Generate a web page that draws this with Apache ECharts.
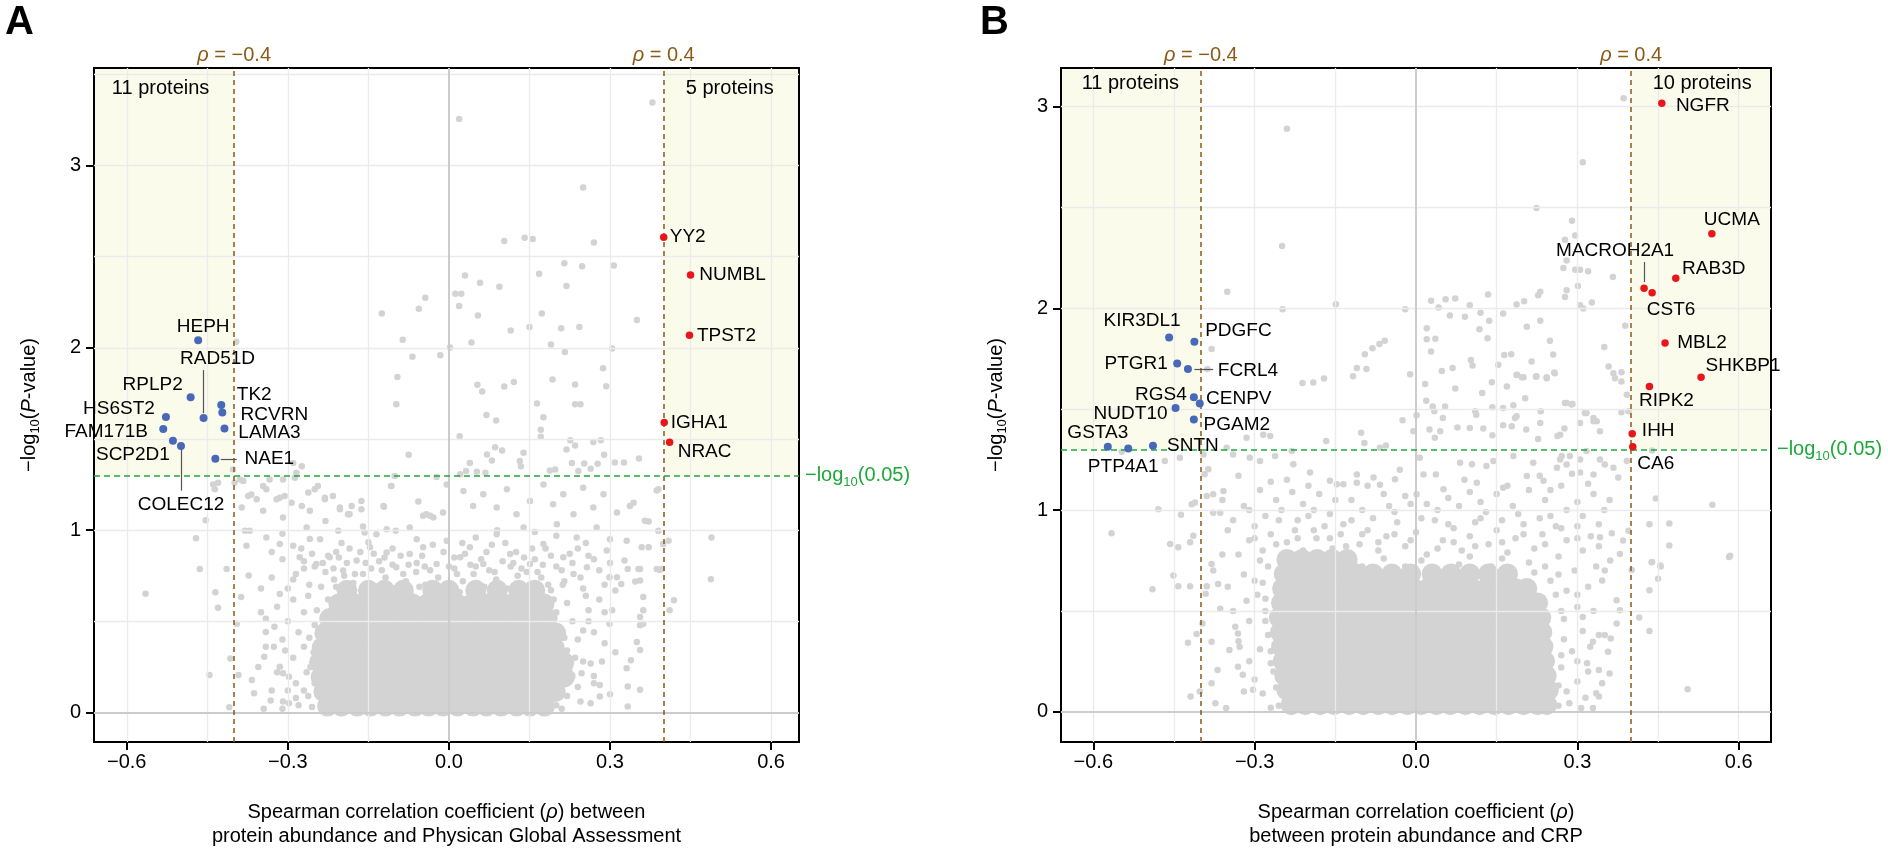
<!DOCTYPE html>
<html><head><meta charset="utf-8">
<script src="https://cdn.jsdelivr.net/npm/echarts@6/dist/echarts.min.js"></script>
<style>html,body{margin:0;padding:0;background:#fff}#c{width:1888px;height:853px}</style>
</head><body><div id="c"></div>
<script>
const FONT = '"Liberation Sans", Arial, Helvetica, sans-serif';

// ---------- axes ----------
const xRangeA = [-0.661, 0.652], yRangeA = [-0.162, 3.535];
const xRangeB = [-0.660, 0.660], yRangeB = [-0.150, 3.192];
const xTicks = [-0.6, -0.3, 0, 0.3, 0.6];
const xMinor = [-0.45, -0.15, 0.15, 0.45];
const yTicks = [0, 1, 2, 3];
const yMinorA = [0.5, 1.5, 2.5, 3.5];
const yMinorB = [0.5, 1.5, 2.5];
const rhoCut = 0.4;
const pCut = 1.30103; // -log10(0.05)

// ---------- panel A: significant proteins [name, rho, -log10 p] ----------
const negA = [['HEPH',-0.467,2.042],['RAD51D',-0.457,1.615],['RPLP2',-0.481,1.729],['TK2',-0.424,1.687],['RCVRN',-0.422,1.646],['LAMA3',-0.418,1.557],['HS6ST2',-0.527,1.620],['FAM171B',-0.532,1.555],['SCP2D1',-0.514,1.491],['COLEC12',-0.499,1.462],['NAE1',-0.435,1.391]];
const posA = [['YY2',0.400,2.606],['NUMBL',0.450,2.400],['TPST2',0.448,2.069],['IGHA1',0.401,1.591],['NRAC',0.411,1.482]];
// ---------- panel B ----------
const negB = [['KIR3DL1',-0.459,1.856],['PDGFC',-0.412,1.835],['PTGR1',-0.444,1.727],['FCRL4',-0.424,1.700],['RGS4',-0.413,1.559],['CENPV',-0.402,1.529],['NUDT10',-0.447,1.506],['PGAM2',-0.413,1.449],['GSTA3',-0.573,1.314],['PTP4A1',-0.535,1.305],['SNTN',-0.489,1.319]];
const posB = [['NGFR',0.457,3.017],['UCMA',0.550,2.370],['RAB3D',0.483,2.149],['MACROH2A1',0.424,2.100],['CST6',0.439,2.077],['MBL2',0.463,1.828],['SHKBP1',0.530,1.658],['RIPK2',0.434,1.613],['IHH',0.402,1.378],['CA6',0.403,1.314]];

// counts of significant proteins per side: [text, rho, y]
const countsA = [['11 proteins',-0.537,3.422], ['5 proteins',0.523,3.422]];
const countsB = [['11 proteins',-0.531,3.116], ['10 proteins',0.532,3.116]];

// ---------- all other proteins (grey), panel A ----------
const greyA = [
[0.019,3.255],[0.379,3.346],[0.250,2.879],[0.270,2.578],[0.215,2.464],[0.248,2.448],[0.307,2.451],[0.219,2.339],
[0.103,2.586],[0.141,2.604],[0.156,2.597],[0.168,2.406],[0.030,2.397],[0.058,2.357],[0.094,2.335],
[-0.044,2.275],[0.012,2.297],[0.023,2.297],[0.019,2.230],[-0.056,2.215],[-0.125,2.189],[0.054,2.178],[0.173,2.188],[0.350,2.153],
[0.115,2.095],[0.150,2.115],[0.209,2.108],[0.243,2.115],[-0.086,2.044],[0.042,2.029],[0.190,2.019],[0.002,2.002],[-0.016,1.960],[-0.068,1.951],[0.216,1.977],[0.304,1.997],[0.287,1.888],[-0.096,1.840],[0.053,1.797],[0.062,1.760],[0.103,1.788],[0.121,1.813],[0.193,1.826],[0.235,1.799],[0.293,1.789],[-0.098,1.691],[0.164,1.695],[0.235,1.691],[0.245,1.691],[0.070,1.631],[0.088,1.602],[0.176,1.619],[0.171,1.551],[0.171,1.513],[0.020,1.515],[-0.075,1.413],[0.226,1.493],[0.219,1.442],[0.235,1.464],[0.269,1.484],[0.283,1.493],[0.289,1.413],[0.309,1.371],[0.326,1.371],[0.354,1.393],[0.086,1.455],[0.099,1.437],[0.071,1.415],[0.080,1.382],[0.139,1.424],[0.132,1.379],[0.134,1.351],[0.039,1.369],[0.032,1.324],[0.052,1.320],[0.068,1.315],[0.252,1.366],[0.277,1.364],[0.229,1.369],[0.241,1.324],[0.188,1.327],[0.198,1.333],[0.264,1.337],[-0.101,1.297],[-0.108,1.242],[-0.023,1.291],[-0.121,1.129],[-0.057,1.157],[0.387,1.218],[0.344,1.151],[0.337,1.133],[0.365,1.051],[0.372,1.047],[0.409,0.942],[0.399,0.924],[0.372,0.906],[0.359,0.906],[0.387,0.787],[0.347,0.719],[0.353,0.787],[-0.396,2.033],[0.489,0.960],[0.390,1.224],[0.390,0.997],[0.393,0.782],
[-0.399,1.260],[-0.383,1.270],[-0.368,1.196],[-0.346,1.242],[-0.334,1.278],[-0.315,1.178],[-0.306,1.187],[-0.287,1.287],[-0.262,1.206],[-0.244,1.242],[-0.231,1.178],
[-0.203,1.115],[-0.181,1.133],[-0.163,1.115],[-0.206,0.997],[-0.188,1.087],[-0.157,0.987],[-0.135,0.978],[-0.150,0.933],[-0.116,1.005],[-0.099,0.997],[-0.073,1.015],[-0.048,1.079],[-0.035,1.079],[-0.011,1.097],
[-0.439,1.251],[-0.430,1.260],[-0.436,1.224],[-0.402,1.333],[-0.389,1.278],[-0.374,1.187],[-0.358,1.169],[-0.340,1.224],[-0.309,1.278],[-0.284,1.315],[-0.274,1.351],[-0.290,1.369],[-0.321,1.169],[-0.293,1.151],[-0.274,1.133],[-0.250,1.224],[-0.231,1.169],[-0.216,1.187],[-0.386,1.124],[-0.346,1.106],[-0.309,1.069],[-0.259,1.106],[-0.203,1.124],[-0.185,1.087],[-0.163,1.160],[-0.122,1.133],[-0.107,1.242],[-0.042,1.087],[-0.004,1.251],[0.021,1.306],
[-0.471,0.956],[-0.453,1.055],[-0.464,0.787],[-0.414,0.787],[-0.377,0.915],[-0.380,0.997],
[-0.565,0.651],[-0.435,0.660],[-0.430,0.575],[-0.446,0.206],[-0.407,0.296],[-0.409,0.029],[-0.392,0.206],[-0.387,0.633],[-0.395,0.487],[-0.363,0.105],[-0.367,0.178],[-0.373,0.751],
[-0.341,0.514],[-0.341,0.442],[-0.326,0.360],[-0.341,0.360],[-0.344,0.306],[-0.332,0.065],[-0.309,0.060],[-0.298,0.051],[-0.315,0.251],[-0.309,0.215],[-0.298,0.196],
[0.333,0.033],[0.356,0.124],[0.333,0.142],[0.331,0.242],[0.339,0.287],[0.350,0.387],[0.356,0.342],[0.356,0.478],[0.362,0.487],[0.356,0.524],[0.362,0.560],[0.362,0.633],[0.396,0.787],[0.419,0.615],[0.411,0.560],[0.488,0.731],[0.333,0.787],[0.356,0.787],[0.327,0.833],
[0.264,0.051],[0.281,0.087],[0.270,0.160],[0.281,0.151],[0.247,0.215],[0.264,0.269],[0.299,0.487],[0.304,0.560],[0.310,0.669],[0.321,0.705],[0.299,0.742],
[-0.371,0.997],[-0.340,0.960],[-0.315,0.924],[-0.290,0.915],[-0.265,1.015],[-0.259,0.951],[-0.278,0.851],[-0.247,0.815],[-0.222,0.851],[-0.197,0.779],[-0.172,0.833],[-0.147,0.906],[-0.116,0.878],[-0.098,0.797],[-0.073,0.869],[-0.048,0.906],[-0.023,0.815],[-0.004,0.942],[0.021,0.851],[0.039,0.906],[0.064,0.815],[0.089,0.978],[0.114,0.869],[0.139,1.015],[0.151,0.815],[0.176,0.924],[0.201,1.033],[0.213,0.851],[0.238,0.960],[0.257,0.797],[0.275,1.015],[0.294,0.888],[0.313,0.742],[0.331,0.942],[0.356,0.724],
[0.027,1.215],[0.045,1.133],[0.064,1.197],[0.089,1.124],[0.108,1.224],[0.126,1.087],[0.151,1.160],[0.176,1.251],[0.194,1.142],[0.213,1.197],[0.232,1.087],[0.250,1.233],[0.269,1.124],[0.288,1.197],[0.313,1.097],[-0.029,1.069],
[-0.262,0.64],[-0.238,0.69],[-0.214,0.73],[-0.2,0.66],[-0.178,0.71],[-0.16,0.76],[-0.135,0.69],[-0.118,0.74],[-0.1,0.68],[-0.08,0.72],[-0.061,0.77],[-0.044,0.7],[-0.02,0.74],[0.004,0.68],[0.026,0.72],[0.046,0.76],[0.066,0.69],[0.088,0.73],[0.108,0.68],[0.128,0.75],[0.15,0.7],[0.172,0.74],[0.19,0.67],[0.212,0.7],[0.232,0.76],[0.255,0.64],
[-0.25,0.8],[-0.225,0.86],[-0.19,0.82],[-0.165,0.88],[-0.13,0.83],[-0.105,0.9],[-0.075,0.81],[-0.05,0.86],[-0.03,0.92],[0.0,0.8],[0.03,0.87],[0.06,0.84],[0.08,0.92],[0.1,0.83],[0.125,0.88],[0.16,0.84],[0.18,0.9],[0.2,0.8],[0.225,0.87],[0.27,0.84],[0.29,0.7],[-0.285,0.76],[-0.31,0.84],[-0.275,0.9],[-0.24,0.95],[-0.2,0.93],[0.09,1.0],[0.2,0.97],[-0.06,0.95],[0.05,0.96],
[-0.28,0.04],[-0.27,0.12],[-0.285,0.16],[-0.265,0.22],[-0.29,0.30],[-0.27,0.36],[-0.28,0.44],[-0.3,0.5],[-0.27,0.55],[-0.29,0.62],[-0.31,0.40],[-0.32,0.58],[-0.3,0.68],[-0.26,0.7],[-0.33,0.12],[-0.285,0.08],
[0.21,0.02],[0.22,0.09],[0.24,0.14],[0.23,0.2],[0.25,0.28],[0.22,0.34],[0.24,0.4],[0.27,0.44],[0.23,0.5],[0.26,0.56],[0.22,0.6],[0.28,0.62],[0.25,0.68],[0.215,0.72],[0.29,0.38],[0.27,0.2],
[-0.255,0.03],[-0.262,0.09],[-0.25,0.16],[-0.258,0.25],[-0.252,0.33],[-0.26,0.41],[-0.25,0.48],[-0.246,0.56],[-0.31,0.02],[-0.3,0.12],[-0.32,0.22],[-0.305,0.34],[-0.325,0.47],[-0.315,0.65],[-0.33,0.74],[-0.35,0.55],[-0.355,0.25],[-0.345,0.02],
[0.2,0.04],[0.205,0.15],[0.225,0.25],[0.21,0.31],[0.215,0.41],[0.205,0.47],[0.2,0.55],[0.195,0.62],[0.235,0.3],[0.245,0.06],[0.25,0.45],[0.26,0.5],[0.285,0.28],[0.3,0.1],[0.31,0.33],[0.29,0.55],
[-0.225,0.62],[-0.21,0.69],[-0.18,0.64],[-0.16,0.68],[-0.14,0.62],[-0.11,0.66],[-0.07,0.64],[-0.055,0.69],[-0.02,0.63],[0.02,0.66],[0.035,0.62],[0.06,0.66],[0.11,0.63],[0.14,0.66],[0.17,0.62],[0.185,0.7],
[-0.23,0.77],[-0.195,0.75],[-0.145,0.79],[-0.085,0.76],[-0.045,0.8],[0.015,0.76],[0.04,0.81],[0.075,0.78],[0.115,0.8],[0.145,0.77],[0.175,0.81],[0.245,0.74],[0.26,0.86],[-0.27,0.83],[-0.21,0.88],[-0.12,0.85],[0.01,0.85],[0.14,0.85],
[-0.29,0.73],[-0.27,0.79],[-0.255,0.87],[-0.235,0.82],[-0.215,0.79],[-0.205,0.85],[-0.185,0.9],[-0.175,0.76],[-0.155,0.82],[-0.14,0.87],[-0.125,0.78],[-0.105,0.81],[-0.09,0.86],[-0.06,0.82],[-0.035,0.78],[-0.01,0.88],[0.01,0.79],[0.025,0.93],[0.05,0.8],[0.07,0.88],[0.085,0.77],[0.105,0.93],[0.12,0.82],[0.135,0.79],[0.155,0.9],[0.165,0.77],[0.19,0.86],[0.21,0.78],[0.23,0.82],[0.24,0.9],[0.255,0.93],[0.28,0.78],[0.3,0.82],[0.3,0.95],[-0.33,0.88],[-0.35,0.68],[-0.31,0.98],[-0.23,1.05],[-0.16,1.02],[0.16,0.99]
];
// dense core of panel A: rows of [ -log10 p , [rho ...] ]
const coreA = [
[0.035,[-0.226,-0.2,-0.171,-0.146,-0.118,-0.092,-0.063,-0.038,-0.011,0.016,0.045,0.07,0.097,0.126,0.151,0.178]],
[0.115,[-0.233,-0.204,-0.179,-0.15,-0.125,-0.096,-0.071,-0.042,-0.017,0.012,0.037,0.066,0.091,0.12,0.145,0.174,0.198]],
[0.195,[-0.238,-0.21,-0.183,-0.156,-0.129,-0.102,-0.075,-0.048,-0.021,0.006,0.033,0.06,0.087,0.114,0.141,0.168,0.195,0.215]],
[0.275,[-0.241,-0.213,-0.187,-0.159,-0.133,-0.105,-0.079,-0.051,-0.025,0.003,0.029,0.057,0.083,0.111,0.137,0.165,0.191,0.214]],
[0.355,[-0.236,-0.209,-0.182,-0.155,-0.128,-0.101,-0.074,-0.047,-0.02,0.007,0.034,0.061,0.088,0.115,0.142,0.169,0.196]],
[0.435,[-0.231,-0.204,-0.177,-0.15,-0.123,-0.096,-0.069,-0.042,-0.015,0.012,0.039,0.066,0.093,0.12,0.147,0.174,0.199]],
[0.515,[-0.222,-0.195,-0.168,-0.141,-0.114,-0.087,-0.06,-0.033,-0.006,0.021,0.048,0.075,0.102,0.129,0.156,0.183]],
[0.595,[-0.205,-0.176,-0.15,-0.121,-0.094,-0.068,-0.04,-0.012,0.015,0.043,0.07,0.098,0.124,0.152,0.177]],
[0.67,[-0.19,-0.15,-0.12,-0.085,-0.03,0.0,0.05,0.09,0.13,0.16]]
];

// ---------- all other proteins (grey), panel B ----------
const greyB = [
[-0.240,2.891],[-0.249,2.309],[-0.351,2.083],[0.386,3.042],
[0.310,2.725],[0.224,2.498],[0.290,2.435],[0.277,2.341],[0.296,2.361],[0.274,2.200],[0.296,2.192],[0.305,2.192],[0.320,2.184],[0.280,2.238],[0.231,2.082],[0.227,2.065],[0.280,2.090],[0.277,2.057],[0.301,2.111],[0.305,2.016],[0.311,2.000],[0.327,2.029],[0.134,2.069],[0.187,2.019],[0.201,2.036],[-0.149,2.021],[-0.248,1.996],[-0.020,1.996],[0.028,2.038],[0.042,2.004],[0.055,2.045],[0.100,2.016],[0.091,1.958],[0.120,1.978],[0.136,1.939],[0.162,1.975],[0.063,1.965],[0.020,1.901],[0.020,1.847],[0.036,1.850],[0.118,1.897],[0.133,1.852],[0.206,1.909],[0.231,1.939],[0.249,1.840],[0.255,1.771],[0.257,1.682],[0.243,1.654],[0.028,1.786],[0.102,1.744],[0.105,1.717],[0.164,1.769],[0.177,1.773],[0.153,1.720],[0.215,1.737],[0.188,1.671],[0.200,1.659],[0.223,1.661],[-0.095,1.773],[-0.081,1.802],[-0.068,1.823],[-0.058,1.840],[-0.110,1.704],[-0.092,1.700],[-0.117,1.664],[-0.211,1.630],[-0.191,1.633],[-0.171,1.653],[-0.011,1.674],[0.017,1.625],[0.048,1.690],[0.068,1.704],[0.073,1.603],[-0.380,1.799],[-0.388,1.700],
[0.123,1.580],[0.141,1.634],[0.169,1.613],[0.203,1.555],[0.142,1.510],[0.162,1.506],[0.181,1.520],[0.187,1.465],[0.184,1.457],[0.019,1.542],[0.031,1.514],[0.034,1.490],[0.054,1.514],
[0.110,1.490],[0.112,1.473],[0.100,1.407],[0.125,1.404],[0.142,1.371],[0.162,1.421],[0.178,1.416],[0.205,1.399],[0.227,1.353],[0.232,1.490],[0.276,1.404],[0.263,1.367],[0.277,1.531],[0.291,1.526],[0.305,1.432],[0.316,1.481],
[-0.025,1.445],[-0.005,1.391],[0.001,1.470],[0.025,1.399],[0.035,1.358],[0.045,1.391],[0.050,1.457],[0.077,1.409],[-0.167,1.342],[-0.102,1.383],[-0.096,1.333],[-0.067,1.309],[-0.056,1.320],
[-0.352,1.309],[-0.340,1.276],[-0.315,1.358],[-0.284,1.374],[-0.271,1.367],[-0.309,1.260],[-0.290,1.243],[-0.262,1.268],[-0.231,1.293],[-0.228,1.227],[-0.197,1.186],[-0.160,1.145],[-0.147,1.128],[-0.135,1.128],[-0.110,1.177],[-0.110,1.136],[-0.079,1.161],[-0.067,1.125],[-0.039,1.153],[-0.020,1.070],[0.001,1.078],[0.007,1.259],[0.014,1.177],[0.037,1.177],[0.051,1.103],[0.082,1.235],[0.104,1.227],[0.113,1.136],[0.131,1.218],[0.144,1.243],[0.162,1.111],[0.181,1.268],[0.206,1.169],[0.218,1.235],[0.237,1.145],[0.262,1.210],[0.271,1.268],[0.286,1.268],[0.305,1.251],[0.330,1.177],[0.330,1.440],[0.317,1.481],
[-0.479,1.004],[-0.437,0.977],[-0.417,1.029],[-0.411,1.037],[-0.457,0.832],[-0.442,0.816],[-0.414,0.873],[-0.420,0.840],[-0.451,0.676],[-0.442,0.622],[-0.420,0.622],[-0.389,0.622],[-0.368,0.634],[-0.380,0.733],[-0.377,0.700],[-0.389,1.070],[-0.377,1.078],[-0.377,0.987],[-0.364,0.987],[-0.358,1.095],[-0.395,1.276],[-0.386,1.202],[-0.393,1.178],
[-0.566,0.885],[-0.467,1.243],[-0.439,1.259],[-0.547,1.289],
[-0.490,0.607],[-0.424,0.342],[-0.419,0.075],[-0.408,0.385],[-0.402,0.100],[-0.397,0.437],[-0.391,0.585],[-0.380,0.347],[-0.364,0.511],[-0.369,0.207],[-0.380,0.141],[-0.373,0.042],[-0.353,0.018],[-0.336,0.421],[-0.331,0.388],[-0.331,0.223],[-0.322,0.183],[-0.303,0.109],[-0.347,0.306],[-0.328,0.322],
[0.351,0.700],[0.346,0.651],[0.373,0.553],[0.379,0.503],[0.373,0.437],[0.362,0.363],[0.357,0.298],[0.401,0.703],[0.415,0.467],[0.434,0.401],[0.434,0.602],[0.450,0.659],[0.454,0.725],[0.439,0.742],[0.505,0.112],[0.582,0.767],
[0.324,0.322],[0.329,0.347],[0.340,0.380],[0.351,0.380],[0.318,0.240],[0.340,0.207],[0.360,0.190],[0.346,0.141],[0.340,0.075],[0.329,0.018],[0.307,0.018],[0.285,0.042],[0.335,0.092],
[0.366,2.156],[0.073,2.049],[0.187,1.670],[0.197,1.658],[0.224,1.663],[0.243,1.658],[0.258,1.679],[0.350,1.809],[0.389,1.914],[0.358,1.712],[0.367,1.679],[0.370,1.654],[0.382,1.684],[0.382,1.638],[0.392,1.572],[0.395,1.490],[0.382,1.485],[0.336,1.440],[0.330,1.457],[0.314,1.481],[0.342,1.391],[0.268,1.374],[0.231,1.432],[0.280,1.531],[0.289,1.523],
[0.317,1.293],[0.342,1.251],[0.351,1.226],[0.367,1.210],[0.392,1.243],[0.376,1.161],[0.305,1.186],[0.280,1.226],[0.268,1.251],[0.439,1.296],[0.446,1.057],[0.551,1.026],[0.434,0.930],[0.471,0.934],[0.471,0.824],[0.438,0.741],[0.455,0.720],[0.584,0.774],[0.395,0.898],[0.385,0.849],[0.364,0.885],[0.342,0.865],[0.379,0.782],[0.361,0.750],
[-0.33,0.78],[-0.31,0.85],[-0.3,0.92],[-0.285,0.8],[-0.27,0.88],[-0.255,0.95],[-0.24,0.84],[-0.225,0.9],[-0.21,0.8],[-0.2,0.97],[-0.185,0.86],[-0.17,0.92],[-0.155,0.81],[-0.14,0.88],[-0.12,0.95],[-0.105,0.83],[-0.09,0.9],[-0.07,0.8],[-0.055,0.87],[-0.035,0.94],[-0.02,0.82],[0.0,0.89],[0.02,0.78],[0.035,0.95],[0.05,0.85],[0.07,0.91],[0.085,0.8],[0.1,0.87],[0.12,0.96],[0.135,0.83],[0.15,0.9],[0.17,0.79],[0.185,0.86],[0.2,0.93],[0.22,0.81],[0.235,0.88],[0.25,0.97],[0.265,0.77],[0.28,0.85],[0.3,0.92],[0.31,0.8],[0.325,0.87],
[-0.32,1.02],[-0.29,1.1],[-0.26,1.05],[-0.24,1.15],[-0.21,1.03],[-0.18,1.08],[-0.12,1.05],[-0.09,1.12],[-0.05,1.02],[-0.03,1.2],[0.02,1.03],[0.06,1.06],[0.09,1.15],[0.12,1.04],[0.15,1.08],[0.18,1.02],[0.21,1.1],[0.24,1.05],[0.27,1.12],[0.3,1.04],[0.33,1.08],[0.35,1.0],
[-0.27,0.02],[-0.285,0.09],[-0.3,0.16],[-0.27,0.24],[-0.29,0.31],[-0.31,0.45],[-0.28,0.5],[-0.295,0.58],[-0.3,0.65],[-0.275,0.72],[-0.315,0.55],[-0.26,0.4],
[0.265,0.03],[0.28,0.1],[0.3,0.15],[0.27,0.22],[0.29,0.3],[0.31,0.4],[0.275,0.46],[0.3,0.52],[0.28,0.6],[0.265,0.68],[0.32,0.62],[0.295,0.7],
[-0.255,0.03],[-0.26,0.12],[-0.265,0.2],[-0.27,0.3],[-0.275,0.38],[-0.28,0.45],[-0.28,0.56],[-0.285,0.64],[-0.29,0.75],[-0.32,0.1],[-0.31,0.25],[-0.33,0.35],[-0.34,0.5],[-0.32,0.68],[-0.35,0.62],[-0.35,0.9],[-0.36,0.78],
[0.25,0.02],[0.265,0.13],[0.27,0.28],[0.275,0.36],[0.27,0.5],[0.26,0.58],[0.25,0.65],[0.24,0.72],[0.3,0.25],[0.31,0.47],[0.3,0.58],[0.32,0.2],[0.315,0.07],[0.33,0.5],[0.335,0.72],
[-0.23,0.78],[-0.1,0.72],[-0.06,0.76],[-0.02,0.72],[0.01,0.75],[0.03,0.7],[0.08,0.73],[0.1,0.77],[0.14,0.72],[0.16,0.76],[0.21,0.74],[0.22,0.69],
[-0.3,0.86],[-0.26,0.83],[-0.22,0.86],[-0.19,0.9],[-0.16,0.86],[-0.13,0.82],[-0.1,0.88],[-0.07,0.84],[-0.04,0.88],[-0.01,0.85],[0.04,0.81],[0.07,0.84],[0.11,0.82],[0.16,0.84],[0.2,0.88],[0.24,0.83],[0.27,0.91],[0.3,0.86],
[-0.34,0.95],[-0.31,1.0],[-0.28,0.97],[-0.27,1.14],[-0.25,1.0],[-0.23,1.09],[-0.22,0.95],[-0.2,1.12],[-0.19,1.0],[-0.16,0.98],[-0.15,1.05],[-0.135,0.93],[-0.1,1.0],[-0.08,0.96],[-0.06,1.08],[-0.04,0.99],[-0.01,1.03],[0.01,0.96],[0.04,1.0],[0.06,0.93],[0.08,1.02],[0.1,1.09],[0.11,0.94],[0.13,0.99],[0.16,0.95],[0.17,1.12],[0.19,0.98],[0.23,0.96],[0.23,1.17],[0.25,1.1],[0.26,0.92],[0.28,1.0],[0.29,1.18],[0.31,0.97],[0.32,1.13],[0.34,0.93],[0.34,0.82],[0.36,1.05],[-0.36,1.05],[-0.33,1.17]
];
const coreB = [
[0.035,[-0.232,-0.206,-0.178,-0.152,-0.124,-0.098,-0.07,-0.044,-0.016,0.01,0.038,0.064,0.092,0.118,0.146,0.172,0.2,0.226,0.243]],
[0.107,[-0.24,-0.213,-0.186,-0.159,-0.132,-0.105,-0.078,-0.051,-0.024,0.003,0.03,0.057,0.084,0.111,0.138,0.165,0.192,0.219,0.246]],
[0.179,[-0.244,-0.217,-0.19,-0.163,-0.136,-0.109,-0.082,-0.055,-0.028,-0.001,0.026,0.053,0.08,0.107,0.134,0.161,0.188,0.215,0.242]],
[0.251,[-0.247,-0.22,-0.193,-0.166,-0.139,-0.112,-0.085,-0.058,-0.031,-0.004,0.023,0.05,0.077,0.104,0.131,0.158,0.185,0.212,0.239]],
[0.323,[-0.25,-0.223,-0.196,-0.169,-0.142,-0.115,-0.088,-0.061,-0.034,-0.007,0.02,0.047,0.074,0.101,0.128,0.155,0.182,0.209,0.236]],
[0.395,[-0.252,-0.225,-0.198,-0.171,-0.144,-0.117,-0.09,-0.063,-0.036,-0.009,0.018,0.045,0.072,0.099,0.126,0.153,0.18,0.207,0.234]],
[0.467,[-0.254,-0.227,-0.2,-0.173,-0.146,-0.119,-0.092,-0.065,-0.038,-0.011,0.016,0.043,0.07,0.097,0.124,0.151,0.178,0.205,0.232]],
[0.539,[-0.25,-0.223,-0.196,-0.169,-0.142,-0.115,-0.088,-0.061,-0.034,-0.007,0.02,0.047,0.074,0.101,0.128,0.155,0.182,0.209,0.226]],
[0.611,[-0.248,-0.221,-0.194,-0.167,-0.14,-0.113,-0.086,-0.059,-0.032,-0.005,0.022,0.049,0.076,0.103,0.13,0.157,0.184,0.206]],
[0.683,[-0.245,-0.218,-0.191,-0.164,-0.137,-0.11,-0.08,-0.045,-0.01,0.03,0.065,0.1,0.135,0.17]],
[0.755,[-0.24,-0.212,-0.184,-0.156,-0.128]]
];

// leader lines [rho1, y1, rho2, y2]
const leadersA = [[-0.457,1.878,-0.457,1.642],[-0.499,1.451,-0.499,1.217],[-0.425,1.391,-0.395,1.391]];
const leadersB = [[-0.412,1.700,-0.377,1.700],[0.424,2.230,0.424,2.131]];

// ---------- label placement (pixel offsets from point) ----------
const labelOffset = {
  HEPH:[5,-13], RAD51D:[14,-59], RPLP2:[-38,-12], TK2:[33,-10], RCVRN:[52,2], LAMA3:[45,4], HS6ST2:[-47,-8], FAM171B:[-57,3], SCP2D1:[-40,14], COLEC12:[0,59], NAE1:[54,0],
  YY2:[24,-1], NUMBL:[42,0], TPST2:[37,0], IGHA1:[35,0], NRAC:[35,9],
  KIR3DL1:[-27,-17], PDGFC:[44,-11], PTGR1:[-41,0], FCRL4:[60,2], RGS4:[-33,-3], CENPV:[39,-5], NUDT10:[-45,6], PGAM2:[43,5], GSTA3:[-10,-14], PTP4A1:[-5,18], SNTN:[40,0],
  NGFR:[41,2], UCMA:[20,-14], RAB3D:[38,-10], MACROH2A1:[-29,-37], CST6:[19,17], MBL2:[37,0], SHKBP1:[42,-12], RIPK2:[17,14], IHH:[26,-3], CA6:[23,17]
};

const GREY = '#d3d3d3', BLUE = '#4769b8', RED = '#e8161b', BROWN = '#8b5a17', GREEN = '#1fa83a', SHADE = '#fbfbec';
const GRID_C = '#ebebeb', ZERO_C = '#cccccc';

function coreData(rows){ const out=[]; rows.forEach(r=>r[1].forEach(x=>out.push([x,r[0]]))); return out; }
function sigData(list){ return list.map(d=>({name:d[0], value:[d[1],d[2]], label:{offset:labelOffset[d[0]]}})); }
function fmtX(v){ return (v<0?'\u2212':'') + Math.abs(v).toFixed(1); }

function panel(idx, xr, yr, yMinor, grey, core, neg, pos, leaders, counts, xName){
  const xa = {gridIndex:idx, type:'value', min:xr[0], max:xr[1], z:8,
    splitLine:{show:false}, axisLine:{show:false, onZero:false},
    axisTick:{show:true, customValues:xTicks, length:8, lineStyle:{color:'#000', width:2}},
    axisLabel:{customValues:xTicks, formatter:fmtX, fontSize:20, color:'#000', fontFamily:FONT, margin:10},
    name:xName, nameLocation:'middle', nameGap:58,
    nameTextStyle:{fontSize:20, color:'#000', fontFamily:FONT, lineHeight:24, rich:{i:{fontStyle:'italic', fontSize:20, fontFamily:FONT, color:'#000'}}}
  };
  const ya = {gridIndex:idx, type:'value', min:yr[0], max:yr[1], z:8,
    splitLine:{show:false}, axisLine:{show:false, onZero:false},
    axisTick:{show:true, customValues:yTicks, length:8, lineStyle:{color:'#000', width:2}},
    axisLabel:{customValues:yTicks, formatter:v=>String(v), fontSize:20, color:'#000', fontFamily:FONT, margin:13},
    name:'\u2212log{s|10}({i|P}-value)', nameLocation:'middle', nameGap:52, nameRotate:90,
    nameTextStyle:{fontSize:20, color:'#000', fontFamily:FONT, lineHeight:26,
      rich:{s:{fontSize:13, lineHeight:13, verticalAlign:'bottom', color:'#000', fontFamily:FONT}, i:{fontStyle:'italic', fontSize:20, color:'#000', fontFamily:FONT}}}
  };
  const base = {xAxisIndex:idx, yAxisIndex:idx, silent:true, animation:false};
  const gridLines = [];
  xMinor.concat(xTicks.filter(v=>v!==0)).forEach(v=>gridLines.push({xAxis:v}));
  yMinor.concat(yTicks.filter(v=>v!==0)).forEach(v=>gridLines.push({yAxis:v}));
  const series = [
    Object.assign({}, base, {type:'scatter', data:[], z:1,
      markArea:{silent:true, itemStyle:{color:SHADE, opacity:1}, data:[
        [{xAxis:xr[0], yAxis:pCut},{xAxis:-rhoCut, yAxis:yr[1]}],
        [{xAxis:rhoCut, yAxis:pCut},{xAxis:xr[1], yAxis:yr[1]}]
      ]}}),
    Object.assign({}, base, {type:'scatter', data:[], z:2,
      markLine:{silent:true, symbol:'none', animation:false, label:{show:false}, lineStyle:{color:GRID_C, width:1.3, type:'solid', opacity:1}, data:gridLines}}),
    Object.assign({}, base, {type:'scatter', data:[], z:2,
      markLine:{silent:true, symbol:'none', animation:false, label:{show:false}, lineStyle:{color:ZERO_C, width:2, type:'solid', opacity:1}, data:[{xAxis:0},{yAxis:0}]}}),
    Object.assign({}, base, {type:'scatter', name:'other', data:coreData(core), symbolSize:21, itemStyle:{color:GREY, opacity:1}, z:4}),
    Object.assign({}, base, {type:'scatter', name:'other', data:grey, symbolSize:6.5, itemStyle:{color:GREY, opacity:1}, z:4}),
    Object.assign({}, base, {type:'scatter', data:[], z:5,
      markLine:{silent:true, symbol:'none', animation:false, data:[
        {xAxis:-rhoCut, lineStyle:{color:BROWN, width:1.5, type:[5,4], opacity:1}, label:{show:true, position:'end', distance:3, formatter:'{i|\u03c1} = \u22120.4', color:BROWN, fontSize:20, fontFamily:FONT, rich:{i:{fontStyle:'italic', color:BROWN, fontSize:20, fontFamily:FONT}}}},
        {xAxis:rhoCut, lineStyle:{color:BROWN, width:1.5, type:[5,4], opacity:1}, label:{show:true, position:'end', distance:3, formatter:'{i|\u03c1} = 0.4', color:BROWN, fontSize:20, fontFamily:FONT, rich:{i:{fontStyle:'italic', color:BROWN, fontSize:20, fontFamily:FONT}}}},
        {yAxis:pCut, lineStyle:{color:GREEN, width:1.5, type:[6,4], opacity:1}, label:{show:true, position:'end', distance:6, formatter:'\u2212log{s|10}(0.05)', color:GREEN, fontSize:20, fontFamily:FONT, lineHeight:26, rich:{s:{fontSize:13, lineHeight:13, verticalAlign:'bottom', color:GREEN, fontFamily:FONT}}}}
      ]},
      markPoint:{silent:true, symbol:'circle', symbolSize:1, itemStyle:{color:'rgba(0,0,0,0)'},
        label:{show:true, position:'inside', color:'#000', fontSize:20, fontFamily:FONT, formatter:'{b}'},
        data:counts.map(c=>({name:c[0], coord:[c[1], c[2]]}))}
    }),
    Object.assign({}, base, {type:'scatter', data:[], z:6,
      markLine:{silent:true, symbol:'none', animation:false, label:{show:false}, lineStyle:{color:'#555', width:1.2, type:'solid', opacity:1},
        data:leaders.map(l=>[{coord:[l[0],l[1]]},{coord:[l[2],l[3]]}])}}),
    Object.assign({}, base, {type:'scatter', name:'negative', data:sigData(neg), symbolSize:8, itemStyle:{color:BLUE, opacity:1}, z:7,
      label:{show:true, position:'inside', formatter:'{b}', fontSize:19, color:'#000', fontFamily:FONT}}),
    Object.assign({}, base, {type:'scatter', name:'positive', data:sigData(pos), symbolSize:7.5, itemStyle:{color:RED, opacity:1}, z:7,
      label:{show:true, position:'inside', formatter:'{b}', fontSize:19, color:'#000', fontFamily:FONT}})
  ];
  return {xa, ya, series};
}

const pA = panel(0, xRangeA, yRangeA, yMinorA, greyA, coreA, negA, posA, leadersA, countsA,
  'Spearman correlation coefficient ({i|\u03c1}) between\nprotein abundance and Physican Global Assessment');
const pB = panel(1, xRangeB, yRangeB, yMinorB, greyB, coreB, negB, posB, leadersB, countsB,
  'Spearman correlation coefficient ({i|\u03c1})\nbetween protein abundance and CRP');

const chart = echarts.init(document.getElementById('c'), null, {renderer:'canvas'});
chart.setOption({
  backgroundColor:'#fff',
  animation:false,
  title:[
    {text:'A', left:5, top:3, padding:0, textStyle:{fontSize:40, fontWeight:'bold', fontFamily:FONT, color:'#000', lineHeight:40}},
    {text:'B', left:980, top:3, padding:0, textStyle:{fontSize:40, fontWeight:'bold', fontFamily:FONT, color:'#000', lineHeight:40}}
  ],
  grid:[
    {left:94, top:68, width:705, height:678, show:true, borderColor:'#000', borderWidth:2, backgroundColor:'transparent', z:3},
    {left:1061, top:68, width:710, height:678, show:true, borderColor:'#000', borderWidth:2, backgroundColor:'transparent', z:3}
  ],
  xAxis:[pA.xa, pB.xa],
  yAxis:[pA.ya, pB.ya],
  series: pA.series.concat(pB.series)
});
</script>
</body></html>
